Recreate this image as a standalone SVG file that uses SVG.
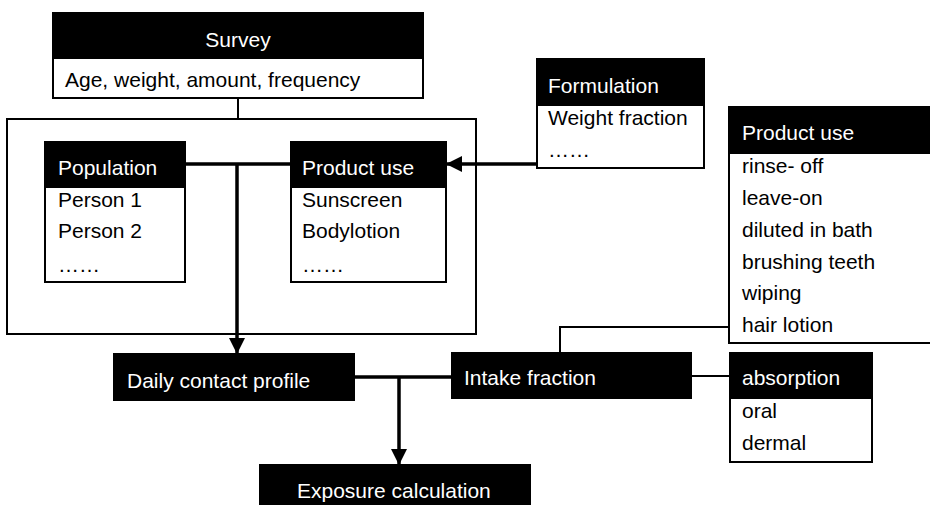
<svg xmlns="http://www.w3.org/2000/svg" width="930" height="505" viewBox="0 0 930 505">
<style>
text{font-family:"Liberation Sans",Arial,sans-serif;font-size:21px;fill:#000}
.h{fill:#000;stroke:#000;stroke-width:2}
.b{fill:#fff;stroke:#000;stroke-width:2}
.w{fill:#fff}
.thin{fill:none;stroke:#000;stroke-width:2}
.thick{fill:none;stroke:#000;stroke-width:3.5}
</style>
<defs>
<marker id="arr" markerUnits="userSpaceOnUse" markerWidth="16" markerHeight="16" viewBox="0 0 16 16" refX="16" refY="8" orient="auto">
<path d="M0,0 L16,8 L0,16 z" fill="#000"/>
</marker>
</defs>
<rect x="7" y="119" width="469" height="215" class="b"/>
<g id="connectors">
<line x1="238" y1="98" x2="238" y2="119" class="thin"/>
<line x1="186" y1="164" x2="291" y2="164" class="thick"/>
<line x1="237" y1="164" x2="237" y2="354" class="thick" marker-end="url(#arr)"/>
<line x1="537" y1="164" x2="446" y2="164" class="thick" marker-end="url(#arr)"/>
<polyline points="729,327 560,327 560,353" class="thin"/>
<line x1="354" y1="377" x2="452" y2="377" class="thick"/>
<line x1="399" y1="377" x2="399" y2="465" class="thick" marker-end="url(#arr)"/>
<line x1="691" y1="376" x2="730" y2="376" class="thin"/>
</g>
<g id="survey">
<rect x="53" y="58" width="370" height="40" class="b"/>
<rect x="53" y="13" width="370" height="45" class="h"/>
<text x="238" y="47" text-anchor="middle" class="w">Survey</text>
<text x="65" y="87">Age, weight, amount, frequency</text>
</g>
<g id="population">
<rect x="45" y="187" width="140" height="95" class="b"/>
<rect x="45" y="142" width="140" height="45" class="h"/>
<text x="58" y="175" class="w">Population</text>
<text x="58" y="207">Person 1</text>
<text x="58" y="238">Person 2</text>
<text x="58" y="272">……</text>
</g>
<g id="product-use-inner">
<rect x="291" y="187" width="155" height="95" class="b"/>
<rect x="291" y="142" width="155" height="45" class="h"/>
<text x="302" y="175" class="w">Product use</text>
<text x="302" y="207">Sunscreen</text>
<text x="302" y="238">Bodylotion</text>
<text x="302" y="272">……</text>
</g>
<g id="formulation">
<rect x="537" y="105" width="167" height="63" class="b"/>
<rect x="537" y="59" width="167" height="46" class="h"/>
<text x="548" y="93" class="w">Formulation</text>
<text x="548" y="125">Weight fraction</text>
<text x="548" y="157">……</text>
</g>
<g id="product-use-types">
<rect x="729" y="153" width="215" height="190" class="b"/>
<rect x="729" y="107" width="215" height="46" class="h"/>
<text x="742" y="140" class="w">Product use</text>
<text x="742" y="173">rinse- off</text>
<text x="742" y="205">leave-on</text>
<text x="742" y="237">diluted in bath</text>
<text x="742" y="269">brushing teeth</text>
<text x="742" y="300">wiping</text>
<text x="742" y="332">hair lotion</text>
</g>
<g id="daily-contact-profile">
<rect x="114" y="354" width="240" height="46" class="h"/>
<text x="127" y="388" class="w">Daily contact profile</text>
</g>
<g id="intake-fraction">
<rect x="452" y="353" width="239" height="45" class="h"/>
<text x="464" y="385" class="w">Intake fraction</text>
</g>
<g id="absorption">
<rect x="730" y="398" width="142" height="64" class="b"/>
<rect x="730" y="353" width="142" height="45" class="h"/>
<text x="742" y="385" class="w">absorption</text>
<text x="742" y="418">oral</text>
<text x="742" y="450">dermal</text>
</g>
<g id="exposure-calculation">
<rect x="260" y="465" width="270" height="50" class="h"/>
<text x="297" y="498" class="w">Exposure calculation</text>
</g>
</svg>
